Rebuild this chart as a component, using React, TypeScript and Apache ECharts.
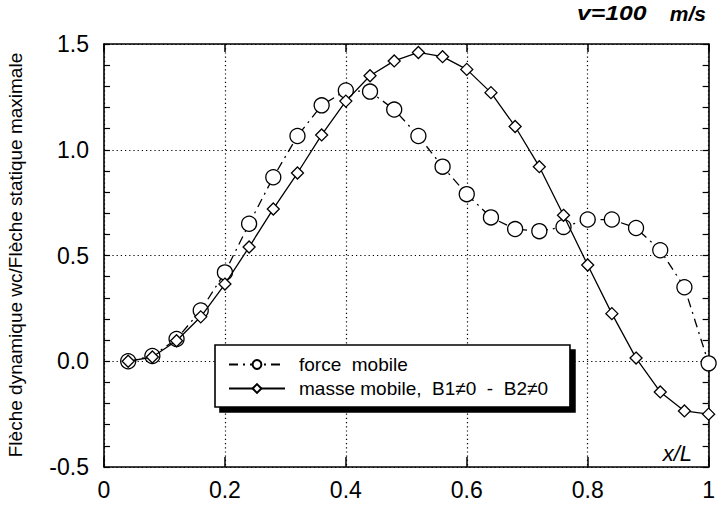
import React, { useEffect, useRef } from "react";
import * as echarts from "echarts";

const xValues = [0.04, 0.08, 0.12, 0.16, 0.2, 0.24, 0.28, 0.32, 0.36, 0.4, 0.44, 0.48, 0.52, 0.56, 0.6, 0.64, 0.68, 0.72, 0.76, 0.8, 0.84, 0.88, 0.92, 0.96, 1.0];
const forceMobile = [0.0, 0.025, 0.105, 0.24, 0.42, 0.65, 0.87, 1.065, 1.21, 1.28, 1.275, 1.19, 1.065, 0.92, 0.79, 0.68, 0.625, 0.615, 0.635, 0.67, 0.67, 0.63, 0.525, 0.35, -0.01];
const masseMobile = [0.0, 0.02, 0.097, 0.21, 0.365, 0.54, 0.72, 0.89, 1.07, 1.23, 1.35, 1.42, 1.46, 1.44, 1.38, 1.27, 1.11, 0.92, 0.69, 0.455, 0.225, 0.015, -0.145, -0.235, -0.25];
const xTickLabels: Record<string, string> = { "0": "0", "0.2": "0.2", "0.4": "0.4", "0.6": "0.6", "0.8": "0.8", "1": "1" };
const seriesNames = ["force  mobile", "masse mobile,  B1\u22600  -  B2\u22600"];

const FONT = "Liberation Sans, Arial, Helvetica, sans-serif";

export default function App() {
  const ref = useRef<HTMLDivElement>(null);
  useEffect(() => {
    if (!ref.current) return;
    const chart = echarts.init(ref.current, undefined, { renderer: "svg" });
    const axisLine = { show: true, onZero: false, lineStyle: { color: "#000", width: 1.6 } };
    chart.setOption({
      animation: false,
      backgroundColor: "#fff",
      grid: { left: 104, right: 9, top: 44, bottom: 39, containLabel: false },
      xAxis: [
        {
          type: "value",
          min: 0,
          max: 1,
          interval: 0.2,
          position: "bottom",
          axisLine,
          axisTick: { show: true, inside: true, length: 10, lineStyle: { color: "#000", width: 1.5 } },
          axisLabel: {
            color: "#000",
            fontSize: 23,
            fontFamily: FONT,
            margin: 11,
            formatter: (v: number) => xTickLabels[String(Math.round(v * 10) / 10)] ?? "",
          },
          splitLine: { show: true, lineStyle: { color: "#000", type: [1.2, 3], width: 1.2 } },
        },
        {
          type: "value",
          min: 0,
          max: 1,
          interval: 0.2,
          position: "top",
          axisLine,
          axisTick: { show: true, inside: true, length: 8, lineStyle: { color: "#000", width: 1.5 } },
          axisLabel: { show: false },
          splitLine: { show: false },
        },
      ],
      yAxis: [
        {
          type: "value",
          min: -0.5,
          max: 1.5,
          interval: 0.5,
          position: "left",
          axisLine,
          axisTick: { show: true, inside: true, length: 6, lineStyle: { color: "#000", width: 1.2 } },
          minorTick: { show: true, splitNumber: 5, length: 6, lineStyle: { color: "#000", width: 1.2 } },
          axisLabel: {
            color: "#000",
            fontSize: 23,
            fontFamily: FONT,
            margin: 15,
            formatter: (v: number) => v.toFixed(1),
          },
          splitLine: { show: true, lineStyle: { color: "#000", type: [1.2, 3], width: 1.2 } },
        },
        {
          type: "value",
          min: -0.5,
          max: 1.5,
          interval: 0.5,
          position: "right",
          axisLine,
          axisTick: { show: true, inside: true, length: 6, lineStyle: { color: "#000", width: 1.2 } },
          minorTick: { show: true, splitNumber: 5, length: 6, lineStyle: { color: "#000", width: 1.2 } },
          axisLabel: { show: false },
          splitLine: { show: false },
        },
      ],
      legend: {
        show: true,
        orient: "vertical",
        left: 215,
        top: 345,
        itemWidth: 56,
        itemHeight: 11,
        itemGap: 5,
        padding: [10, 22, 9, 13],
        backgroundColor: "#fff",
        borderColor: "#000",
        borderWidth: 1.6,
        shadowColor: "#000",
        shadowBlur: 0,
        shadowOffsetX: 5,
        shadowOffsetY: 5,
        textStyle: { color: "#000", fontSize: 19, fontFamily: FONT, padding: [0, 0, 0, 9] },
        data: seriesNames,
      },
      series: [
        {
          name: seriesNames[0],
          type: "line",
          data: xValues.map((x, i) => [x, forceMobile[i]]),
          symbol: "circle",
          symbolSize: 15,
          showAllSymbol: true,
          itemStyle: { color: "#fff", borderColor: "#000", borderWidth: 1.3 },
          lineStyle: { color: "#000", width: 1.3, type: [9, 5, 2, 5] },
          z: 3,
        },
        {
          name: seriesNames[1],
          type: "line",
          data: xValues.map((x, i) => [x, masseMobile[i]]),
          symbol: "diamond",
          symbolSize: 12,
          showAllSymbol: true,
          itemStyle: { color: "#fff", borderColor: "#000", borderWidth: 1.3 },
          lineStyle: { color: "#000", width: 1.3, type: "solid" },
          z: 4,
        },
      ],
      graphic: [
        {
          type: "text",
          x: 15,
          y: 255,
          rotation: Math.PI / 2,
          style: {
            text: "Fl\u00e8che dynamique wc/Fl\u00e8che statique maximale",
            fill: "#000",
            font: `19px ${FONT}`,
            align: "center",
            verticalAlign: "middle",
          },
        },
        {
          type: "text",
          x: 577,
          y: 13,
          scaleX: 1.18,
          style: {
            text: "v=100",
            fill: "#000",
            font: `italic bold 21px ${FONT}`,
            align: "left",
            verticalAlign: "middle",
          },
        },
        {
          type: "text",
          x: 706,
          y: 13,
          style: {
            text: "m/s",
            fill: "#000",
            font: `italic bold 21px ${FONT}`,
            align: "right",
            verticalAlign: "middle",
          },
        },
        {
          type: "text",
          x: 692,
          y: 453,
          style: {
            text: "x/L",
            fill: "#000",
            font: `italic 22px ${FONT}`,
            align: "right",
            verticalAlign: "middle",
          },
        },
      ],
    });
    return () => chart.dispose();
  }, []);
  return <div ref={ref} style={{ width: 718, height: 506, position: "absolute", left: 0, top: 0 }} />;
}
